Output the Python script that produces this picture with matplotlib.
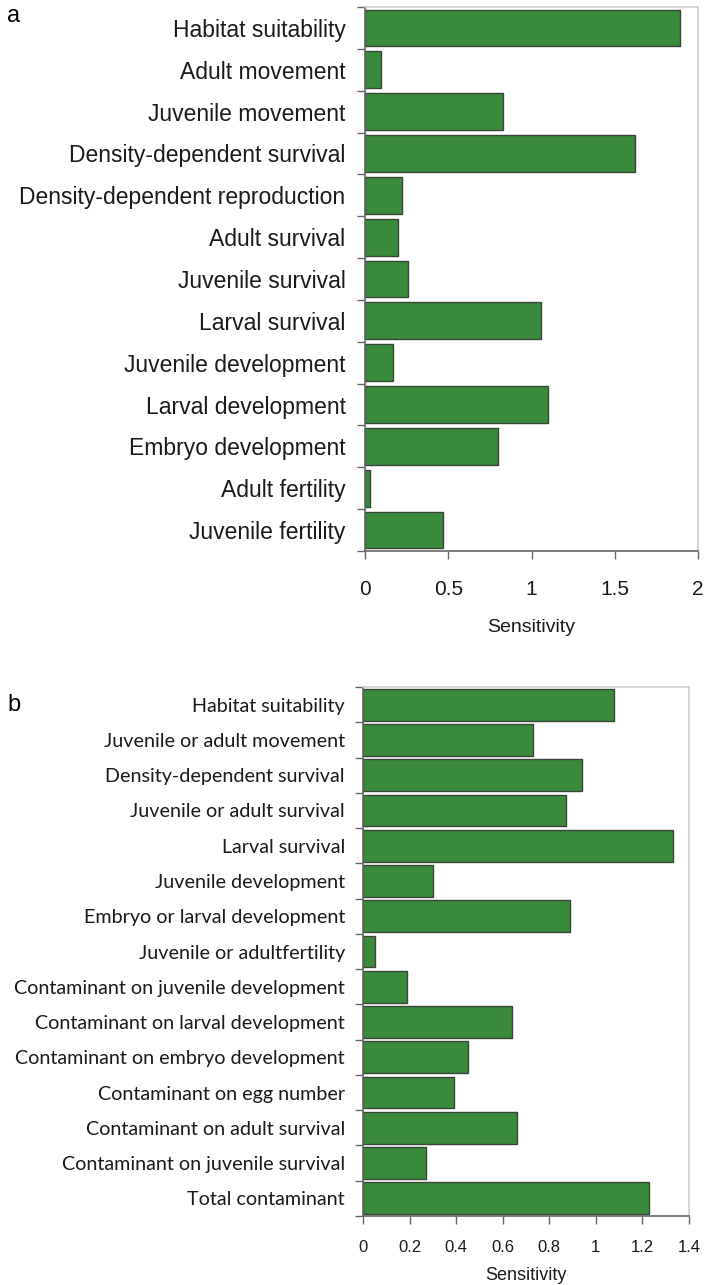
import numpy as np
import matplotlib
matplotlib.use("Agg")
import matplotlib.pyplot as plt

# panel a
labels_a = ["Habitat suitability", "Adult movement", "Juvenile movement",
            "Density-dependent survival", "Density-dependent reproduction",
            "Adult survival", "Juvenile survival", "Larval survival",
            "Juvenile development", "Larval development", "Embryo development",
            "Adult fertility", "Juvenile fertility"]
values_a = [1.89, 0.096, 0.83, 1.62, 0.22, 0.20, 0.26, 1.06, 0.17, 1.10, 0.80, 0.03, 0.47]
ticks_a = [0, 0.5, 1, 1.5, 2]
ticklabels_a = ["0", "0.5", "1", "1.5", "2"]

# panel b
labels_b = ["Habitat suitability", "Juvenile or adult movement",
            "Density-dependent survival", "Juvenile or adult survival",
            "Larval survival", "Juvenile development", "Embryo or larval development",
            "Juvenile or adultfertility", "Contaminant on juvenile development",
            "Contaminant on larval development", "Contaminant on embryo development",
            "Contaminant on egg number", "Contaminant on adult survival",
            "Contaminant on juvenile survival", "Total contaminant"]
values_b = [1.08, 0.73, 0.94, 0.87, 1.33, 0.30, 0.89, 0.05, 0.19, 0.64,
            0.45, 0.39, 0.66, 0.27, 1.23]
ticks_b = [0, 0.2, 0.4, 0.6, 0.8, 1, 1.2, 1.4]
ticklabels_b = ["0", "0.2", "0.4", "0.6", "0.8", "1", "1.2", "1.4"]

GREEN = "#3a8a3c"
EDGE = "#3a463a"
W, H = 706, 1285

fig = plt.figure(figsize=(W / 100, H / 100), dpi=100)


def panel(rect, labels, values, ticks, ticklabels, xmax, height,
          label_font, label_size, tick_size, label_pad, xpad, xlabpad, xlab_size):
    ax = fig.add_axes(rect)
    n = len(labels)
    y = np.arange(n)
    ax.barh(y, values, height=height, color=GREEN, edgecolor=EDGE, linewidth=1.0)
    ax.set_ylim(n - 0.5, -0.5)
    ax.set_xlim(0, xmax)
    ax.set_yticks(y)
    ax.set_yticklabels(labels, family=label_font, fontsize=label_size, color="#1a1a1a")
    ax.tick_params(axis="y", which="major", length=0, pad=label_pad)
    ax.set_yticks(np.arange(n + 1) - 0.5, minor=True)
    ax.tick_params(axis="y", which="minor", length=6, width=1, color="#666666")
    ax.set_xticks(ticks)
    ax.set_xticklabels(ticklabels, family="Liberation Sans", fontsize=tick_size, color="#1a1a1a")
    ax.tick_params(axis="x", length=6, width=1, color="#666666", pad=xpad)
    ax.set_xlabel("Sensitivity", family="Liberation Sans", fontsize=xlab_size,
                  color="#1a1a1a", labelpad=xlabpad)
    for s in ["left", "bottom"]:
        ax.spines[s].set_color("#666666")
        ax.spines[s].set_linewidth(1.2)
    for s in ["top", "right"]:
        ax.spines[s].set_color("#cfcfcf")
        ax.spines[s].set_linewidth(1.2)
    return ax


panel([365 / W, 1 - 551 / H, (698 - 365) / W, (551 - 7) / H],
      labels_a, values_a, ticks_a, ticklabels_a, 2, 0.88,
      "Liberation Sans", 16.5, 15, 14, 15, 14, 14)

panel([363 / W, 1 - 1216 / H, (689 - 363) / W, (1216 - 687) / H],
      labels_b, values_b, ticks_b, ticklabels_b, 1.4, 0.9,
      "Lato", 14.2, 12, 13, 11, 9, 13)

fig.text(7 / W, 1 - 22 / H, "a", family="Liberation Sans", fontsize=17, va="baseline")
fig.text(7 / W, 1 - 705 / H, "b", family="Liberation Sans", fontsize=17, va="center")

fig.savefig("out.png", dpi=100)
